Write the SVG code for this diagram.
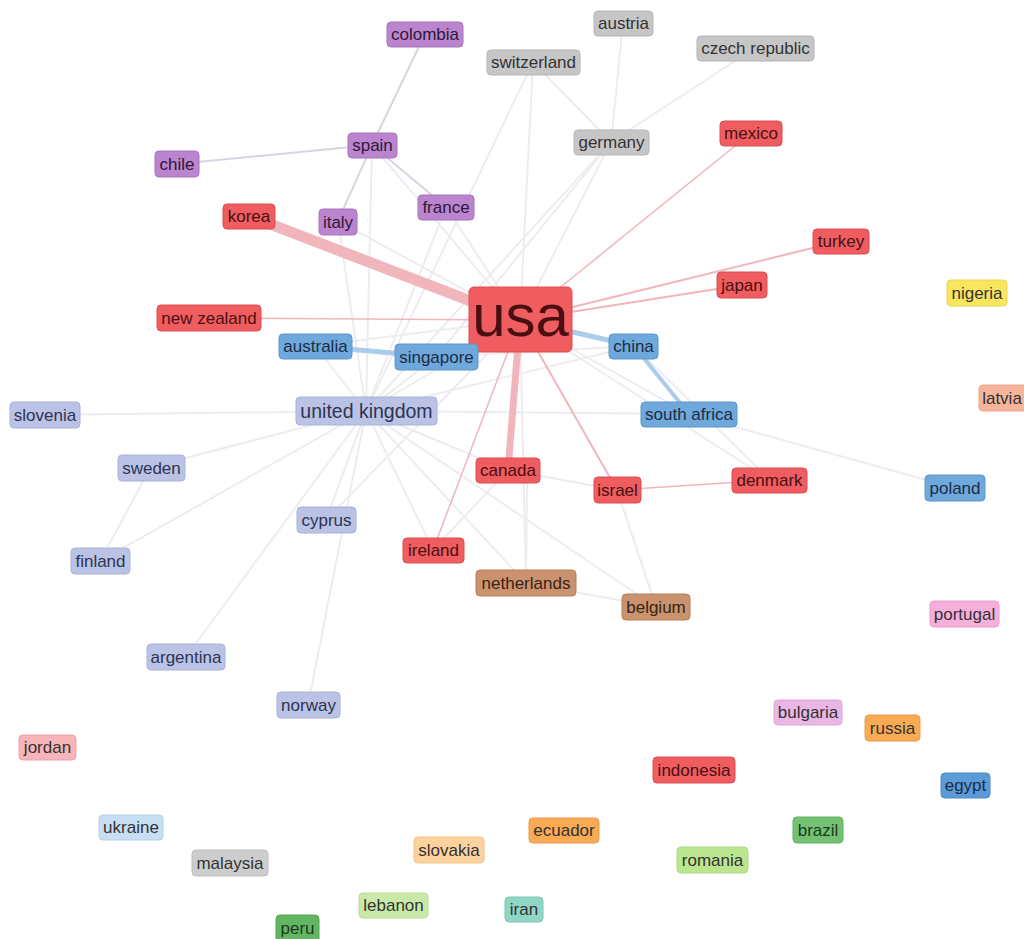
<svg xmlns="http://www.w3.org/2000/svg" width="1024" height="939" viewBox="0 0 1024 939">
<style>
text{font-family:"Liberation Sans",Arial,sans-serif;font-size:17px;text-anchor:middle;dominant-baseline:central;fill:#333}
rect{stroke-width:1}
.red rect{fill:#ef5d61;stroke:#dc4c50}.red text{fill:#4a0f10}
.pur rect{fill:#bb84cf;stroke:#a772bb}.pur text{fill:#2e1838}
.gry rect{fill:#c6c6c6;stroke:#b5b5b5}
.blu rect{fill:#6ea8dc;stroke:#5d96c9}.blu text{fill:#1b2d44}
.lav rect{fill:#bac2e6;stroke:#a9b2d9}.lav text{fill:#2e3550}
.brn rect{fill:#ca926e;stroke:#b6805d}.brn text{fill:#3a2414}
.edges line{stroke-linecap:round}
.f{stroke:#ededf1;stroke-width:2}
.r{stroke:#f0b6bc}
.p{stroke:#dcd3e2;stroke-width:2}
.b{stroke:#a9cdea}
</style>
<rect x="0" y="0" width="1024" height="939" fill="#ffffff" stroke="none"/>
<g class="edges" fill="none">
<line class="f" x1="366" y1="411" x2="45" y2="415"/>
<line class="f" x1="366" y1="411" x2="151" y2="467" stroke-width="3" stroke="#e8e9ee"/>
<line class="f" x1="366" y1="411" x2="100" y2="561" stroke-width="4" stroke="#f2f2f2"/>
<line class="f" x1="151" y1="467" x2="100" y2="561"/>
<line class="f" x1="366" y1="411" x2="326" y2="520"/>
<line class="f" x1="366" y1="411" x2="308" y2="705" stroke="#e6e6ea"/>
<line class="f" x1="366" y1="411" x2="186" y2="657"/>
<line class="f" x1="366" y1="411" x2="520" y2="320" stroke-width="3"/>
<line class="f" x1="366" y1="411" x2="689" y2="414"/>
<line class="f" x1="366" y1="411" x2="634" y2="346"/>
<line class="f" x1="366" y1="411" x2="508" y2="470"/>
<line class="f" x1="366" y1="411" x2="433" y2="550"/>
<line class="f" x1="366" y1="411" x2="526" y2="583"/>
<line class="f" x1="366" y1="411" x2="656" y2="607"/>
<line class="f" x1="366" y1="411" x2="315" y2="346"/>
<line class="f" x1="366" y1="411" x2="436" y2="357"/>
<line class="f" x1="366" y1="411" x2="338" y2="221"/>
<line class="f" x1="366" y1="411" x2="372" y2="145"/>
<line class="f" x1="366" y1="411" x2="446" y2="207"/>
<line class="f" x1="366" y1="411" x2="611" y2="142"/>
<line class="f" x1="366" y1="411" x2="533" y2="62"/>
<line class="f" x1="520" y1="320" x2="611" y2="142"/>
<line class="f" x1="520" y1="320" x2="533" y2="62"/>
<line class="f" x1="520" y1="320" x2="446" y2="207" stroke="#e3e6ea"/>
<line class="f" x1="520" y1="320" x2="372" y2="145"/>
<line class="f" x1="520" y1="320" x2="338" y2="221"/>
<line class="f" x1="520" y1="320" x2="689" y2="414"/>
<line class="f" x1="520" y1="320" x2="770" y2="480"/>
<line class="f" x1="520" y1="320" x2="326" y2="520"/>
<line class="f" x1="520" y1="320" x2="526" y2="583"/>
<line class="f" x1="520" y1="320" x2="315" y2="346"/>
<line class="f" x1="611" y1="142" x2="533" y2="62"/>
<line class="f" x1="611" y1="142" x2="755" y2="48" stroke="#f1f1f1" stroke-width="3"/>
<line class="f" x1="611" y1="142" x2="623" y2="23" stroke="#e0e0e0"/>
<line class="f" x1="611" y1="142" x2="436" y2="357"/>
<line class="f" x1="689" y1="414" x2="955" y2="488" stroke="#dce8f0"/>
<line class="f" x1="617" y1="490" x2="656" y2="607" stroke="#dcdee6" stroke-width="1.5"/>
<line class="f" x1="634" y1="346" x2="770" y2="480" stroke="#f0dde0" stroke-width="1.5"/>
<line class="f" x1="526" y1="583" x2="656" y2="607" stroke="#e0d1c8"/>
<line class="f" x1="508" y1="470" x2="433" y2="550" stroke="#f0dde0" stroke-width="1.5"/>
<line class="f" x1="526" y1="583" x2="527" y2="483" stroke-width="1.5"/>
<line class="f" x1="508" y1="470" x2="617" y2="490" stroke="#f1f1f1" stroke-width="1.5"/>
<line class="f" x1="434" y1="357" x2="634" y2="346" stroke="#e6eef5"/>
<line class="p" x1="372" y1="145" x2="425" y2="34"/>
<line class="p" x1="372" y1="145" x2="177" y2="164" stroke-width="2.5"/>
<line class="p" x1="372" y1="145" x2="338" y2="221"/>
<line class="p" x1="372" y1="145" x2="446" y2="207"/>
<line class="r" x1="520" y1="320" x2="249" y2="216" stroke-width="11" stroke="#f7c4c7"/>
<line class="r" x1="520" y1="320" x2="508" y2="470" stroke-width="7" stroke="#f5b9bd"/>
<line class="r" x1="520" y1="320" x2="841" y2="241" stroke-width="2"/>
<line class="r" x1="520" y1="320" x2="742" y2="285" stroke-width="2"/>
<line class="r" x1="520" y1="320" x2="209" y2="318" stroke-width="1.5" stroke="#ebcdcf"/>
<line class="r" x1="520" y1="320" x2="617" y2="490" stroke-width="2" stroke="#ebb7bb"/>
<line class="r" x1="520" y1="320" x2="433" y2="550" stroke-width="1.5"/>
<line class="r" x1="520" y1="320" x2="751" y2="133" stroke-width="1.5" stroke="#f1dadc"/>
<line class="r" x1="617" y1="490" x2="770" y2="480" stroke-width="1.5" stroke="#f2c3c6"/>
<line class="b" x1="520" y1="320" x2="634" y2="346" stroke-width="5"/>
<line class="b" x1="315" y1="346" x2="436" y2="357" stroke-width="5" stroke="#b6d5ee"/>
<line class="b" x1="634" y1="346" x2="689" y2="414" stroke-width="4" stroke="#b3d3df"/>
</g>
<g id="colombia" class="pur"><rect x="387" y="22" width="76" height="25" rx="4"/><text x="425" y="34.5">colombia</text></g>
<g id="austria" class="gry"><rect x="594" y="11" width="59" height="25" rx="4"/><text x="623.5" y="23.5">austria</text></g>
<g id="switzerland" class="gry"><rect x="487" y="50" width="93" height="25" rx="4"/><text x="533.5" y="62.5">switzerland</text></g>
<g id="czech-republic" class="gry"><rect x="697" y="36" width="117" height="25" rx="4"/><text x="755.5" y="48.5">czech republic</text></g>
<g id="spain" class="pur"><rect x="348" y="133" width="49" height="25" rx="4"/><text x="372.5" y="145.5">spain</text></g>
<g id="chile" class="pur"><rect x="155" y="151" width="44" height="26" rx="4"/><text x="177" y="164">chile</text></g>
<g id="germany" class="gry"><rect x="574" y="130" width="75" height="25" rx="4"/><text x="611.5" y="142.5">germany</text></g>
<g id="mexico" class="red"><rect x="720" y="121" width="62" height="25" rx="4"/><text x="751" y="133.5">mexico</text></g>
<g id="korea" class="red"><rect x="223" y="204" width="52" height="25" rx="4"/><text x="249" y="216.5">korea</text></g>
<g id="italy" class="pur"><rect x="319" y="209" width="38" height="26" rx="4"/><text x="338" y="222">italy</text></g>
<g id="france" class="pur"><rect x="418" y="195" width="56" height="25" rx="4"/><text x="446" y="207.5">france</text></g>
<g id="turkey" class="red"><rect x="813" y="229" width="56" height="25" rx="4"/><text x="841" y="241.5">turkey</text></g>
<g id="usa" class="red"><rect x="469" y="287" width="103" height="65" rx="5"/><text x="520.5" y="315" style="font-size:60px">usa</text></g>
<g id="japan" class="red"><rect x="717" y="272" width="50" height="26" rx="4"/><text x="742" y="285">japan</text></g>
<g id="nigeria"><rect x="947" y="280" width="60" height="26" rx="4" fill="#f7e65e" stroke="#e8d650"/><text x="977" y="293">nigeria</text></g>
<g id="new-zealand" class="red"><rect x="157" y="305" width="104" height="26" rx="4"/><text x="209" y="318">new zealand</text></g>
<g id="australia" class="blu"><rect x="279" y="334" width="73" height="25" rx="4"/><text x="315.5" y="346.5">australia</text></g>
<g id="singapore" class="blu"><rect x="395" y="344" width="83" height="26" rx="4"/><text x="436.5" y="357">singapore</text></g>
<g id="china" class="blu"><rect x="609" y="334" width="49" height="25" rx="4"/><text x="633.5" y="346.5">china</text></g>
<g id="latvia"><rect x="979" y="385" width="52" height="26" rx="4" fill="#f7b59c" stroke="#eaa48a"/><text x="1002" y="398">latvia</text></g>
<g id="slovenia" class="lav"><rect x="10" y="402" width="70" height="26" rx="4"/><text x="45" y="415">slovenia</text></g>
<g id="united-kingdom" class="lav"><rect x="296" y="397" width="141" height="28" rx="4"/><text x="366.5" y="411" style="font-size:19.5px">united kingdom</text></g>
<g id="south-africa" class="blu"><rect x="641" y="402" width="96" height="25" rx="4"/><text x="689" y="414.5">south africa</text></g>
<g id="sweden" class="lav"><rect x="118" y="455" width="67" height="26" rx="4"/><text x="151.5" y="468">sweden</text></g>
<g id="canada" class="red"><rect x="476" y="458" width="64" height="25" rx="4"/><text x="508" y="470.5">canada</text></g>
<g id="israel" class="red"><rect x="594" y="477" width="47" height="26" rx="4"/><text x="617.5" y="490">israel</text></g>
<g id="denmark" class="red"><rect x="732" y="468" width="75" height="25" rx="4"/><text x="769.5" y="480.5">denmark</text></g>
<g id="poland" class="blu"><rect x="925" y="475" width="60" height="26" rx="4"/><text x="955" y="488">poland</text></g>
<g id="cyprus" class="lav"><rect x="297" y="507" width="59" height="26" rx="4"/><text x="326.5" y="520">cyprus</text></g>
<g id="finland" class="lav"><rect x="71" y="548" width="59" height="26" rx="4"/><text x="100.5" y="561">finland</text></g>
<g id="ireland" class="red"><rect x="403" y="538" width="61" height="25" rx="4"/><text x="433.5" y="550.5">ireland</text></g>
<g id="netherlands" class="brn"><rect x="476" y="570" width="100" height="26" rx="4"/><text x="526" y="583">netherlands</text></g>
<g id="belgium" class="brn"><rect x="622" y="594" width="68" height="26" rx="4"/><text x="656" y="607">belgium</text></g>
<g id="portugal"><rect x="930" y="601" width="69" height="26" rx="4" fill="#f6aedb" stroke="#e89ccb"/><text x="964.5" y="614">portugal</text></g>
<g id="argentina" class="lav"><rect x="147" y="644" width="78" height="26" rx="4"/><text x="186" y="657">argentina</text></g>
<g id="norway" class="lav"><rect x="277" y="692" width="63" height="26" rx="4"/><text x="308.5" y="705">norway</text></g>
<g id="bulgaria"><rect x="774" y="700" width="68" height="25" rx="4" fill="#eab6e4" stroke="#dca4d6"/><text x="808" y="712.5">bulgaria</text></g>
<g id="russia"><rect x="865" y="715" width="55" height="26" rx="4" fill="#f9aa55" stroke="#eb9a45"/><text x="892.5" y="728">russia</text></g>
<g id="jordan"><rect x="19" y="735" width="57" height="25" rx="4" fill="#f7b5b9" stroke="#eaa3a8"/><text x="47.5" y="747.5">jordan</text></g>
<g id="indonesia" class="red"><rect x="653" y="757" width="82" height="26" rx="4"/><text x="694" y="770">indonesia</text></g>
<g id="egypt"><rect x="941" y="773" width="49" height="25" rx="4" fill="#5b9bd7" stroke="#4c8ac4"/><text x="965.5" y="785.5" style="fill:#1b2d44">egypt</text></g>
<g id="ukraine"><rect x="99" y="815" width="64" height="25" rx="4" fill="#c7def3" stroke="#b6cfe6"/><text x="131" y="827.5">ukraine</text></g>
<g id="ecuador"><rect x="529" y="818" width="70" height="25" rx="4" fill="#f9aa55" stroke="#eb9a45"/><text x="564" y="830.5">ecuador</text></g>
<g id="brazil"><rect x="793" y="817" width="50" height="26" rx="4" fill="#74c174" stroke="#62b062"/><text x="818" y="830" style="fill:#1e3a1e">brazil</text></g>
<g id="malaysia" class="gry"><rect x="192" y="850" width="76" height="26" rx="4" style="fill:#cdcdcd;stroke:#bdbdbd"/><text x="230" y="863">malaysia</text></g>
<g id="slovakia"><rect x="414" y="837" width="70" height="26" rx="4" fill="#fdd29c" stroke="#f0c28a"/><text x="449" y="850">slovakia</text></g>
<g id="romania"><rect x="677" y="847" width="71" height="26" rx="4" fill="#bce58f" stroke="#acd67f"/><text x="712.5" y="860">romania</text></g>
<g id="lebanon"><rect x="359" y="893" width="69" height="25" rx="4" fill="#c8e9a8" stroke="#b8da98"/><text x="393.5" y="905.5">lebanon</text></g>
<g id="iran"><rect x="505" y="897" width="38" height="25" rx="4" fill="#8fd6c4" stroke="#7ec6b4"/><text x="524" y="909.5">iran</text></g>
<g id="peru"><rect x="276" y="915" width="43" height="30" rx="4" fill="#62b662" stroke="#52a652"/><text x="297.5" y="928" style="fill:#1e3a1e">peru</text></g>
</svg>
